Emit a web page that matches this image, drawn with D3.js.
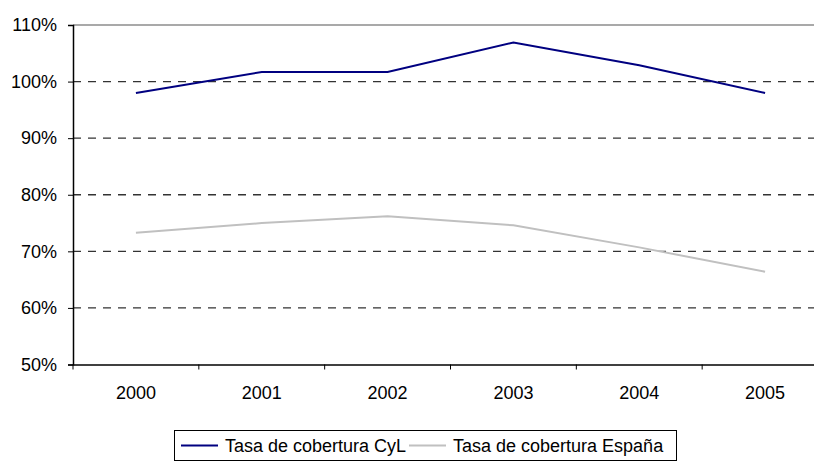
<!DOCTYPE html>
<html>
<head>
<meta charset="utf-8">
<script src="https://cdn.jsdelivr.net/npm/d3@7"></script>
<style>
  body { margin: 0; background: #fff; }
  svg text { font-family: "Liberation Sans", Arial, sans-serif; font-size: 18px; fill: #000; }
</style>
</head>
<body>
<div id="container"></div>
<script>
/* DATA */
const years = ["2000", "2001", "2002", "2003", "2004", "2005"];
const cyl = [98.0, 101.7, 101.7, 106.9, 102.9, 98.0];
const espana = [73.3, 75.0, 76.2, 74.6, 70.7, 66.4];
const yTicks = [50, 60, 70, 80, 90, 100, 110];
const seriesNames = ["Tasa de cobertura CyL", "Tasa de cobertura España"];
const seriesColors = ["#000080", "#c0c0c0"];

/* CONSTANTS */
const W = 814, H = 463;
const margin = {top: 25, left: 73};
const plotW = 755, plotH = 339.5;

const svg = d3.select("#container")
  .append("svg")
  .attr("width", W)
  .attr("height", H);

const g = svg.append("g")
  .attr("transform", `translate(${margin.left},${margin.top})`);

// SCALES
const xScale = d3.scaleBand()
  .domain(years)
  .range([0, plotW]);

const yScale = d3.scaleLinear()
  .domain([50, 110])
  .range([plotH, 0]);

// GRIDLINES
g.selectAll(".grid")
  .data(yTicks.filter(d => d > 50 && d < 110))
  .join("line")
  .attr("class", "grid")
  .attr("x1", 0)
  .attr("x2", plotW)
  .attr("y1", d => yScale(d))
  .attr("y2", d => yScale(d))
  .attr("stroke", "#333")
  .attr("stroke-width", 1.3)
  .attr("stroke-dasharray", "8,7");

// top border of plot area
g.append("line")
  .attr("x1", 0).attr("x2", plotW)
  .attr("y1", yScale(110)).attr("y2", yScale(110))
  .attr("stroke", "#8c8c8c")
  .attr("stroke-width", 1.5);

// AXES
const yAxis = g.append("g")
  .call(d3.axisLeft(yScale)
    .tickValues(yTicks)
    .tickSize(5)
    .tickPadding(11)
    .tickFormat(d => d + "%"));

const xAxis = g.append("g")
  .attr("transform", `translate(0,${plotH})`)
  .call(d3.axisBottom(xScale).tickSize(0).tickPadding(22));

// category ticks between bands
xAxis.selectAll(".cat-tick")
  .data(years.map(y => xScale(y)).concat([plotW]))
  .join("line")
  .attr("class", "cat-tick")
  .attr("x1", d => d).attr("x2", d => d)
  .attr("y1", 0).attr("y2", 5)
  .attr("stroke", "#000");

[yAxis, xAxis].forEach(a => {
  a.selectAll(".domain").attr("stroke", "#000").attr("stroke-width", 1.5);
  a.selectAll(".tick line").attr("stroke", "#000");
  a.selectAll("text").attr("font-size", 18).attr("font-family", null);
});

// LINES
const line = d3.line()
  .x((d, i) => xScale(years[i]) + xScale.bandwidth() / 2)
  .y(d => yScale(d));

[cyl, espana].forEach((s, i) => {
  g.append("path")
    .datum(s)
    .attr("fill", "none")
    .attr("stroke", seriesColors[i])
    .attr("stroke-width", 2)
    .attr("d", line);
});

// LEGEND
const legend = svg.append("g").attr("transform", "translate(174,430)");
legend.append("rect")
  .attr("x", 0.5).attr("y", 0.5)
  .attr("width", 502).attr("height", 30)
  .attr("fill", "#fff")
  .attr("stroke", "#000");

const offsets = [7, 235];
seriesNames.forEach((name, i) => {
  const lg = legend.append("g").attr("transform", `translate(${offsets[i]},0)`);
  lg.append("line")
    .attr("x1", 0).attr("x2", 37)
    .attr("y1", 15.5).attr("y2", 15.5)
    .attr("stroke", seriesColors[i])
    .attr("stroke-width", 2);
  lg.append("text")
    .attr("x", 44)
    .attr("y", 21.5)
    .text(name);
});
</script>
</body>
</html>
